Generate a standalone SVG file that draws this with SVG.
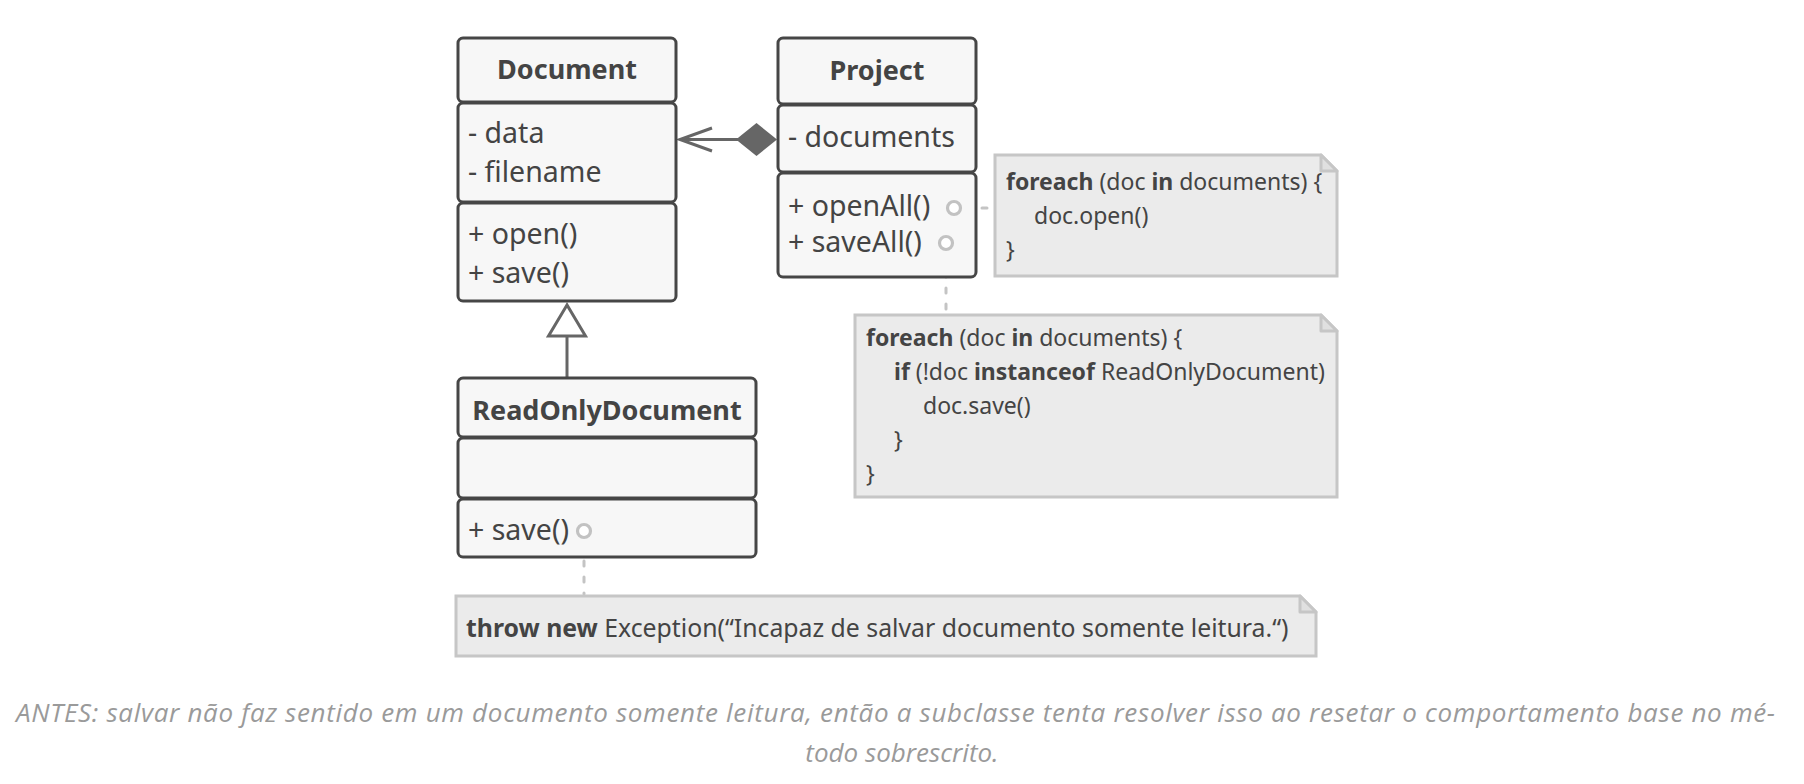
<svg xmlns="http://www.w3.org/2000/svg" width="1804" height="784" viewBox="0 0 1804 784">
<style>
.box{fill:#f7f7f7;stroke:#464646;stroke-width:3}
.t{font-family:"Noto Sans","Open Sans",sans-serif;font-size:28.5px;fill:#444}
.h{font-family:"Noto Sans","Open Sans",sans-serif;font-size:27px;font-weight:bold;fill:#444}
.b{font-weight:bold}
.note{fill:#ebebeb;stroke:#c6c6c6;stroke-width:3}
.fold{fill:#e0e0e0;stroke:#c6c6c6;stroke-width:3;stroke-linejoin:round}
.n{font-family:"Noto Sans","Open Sans",sans-serif;font-size:23px;fill:#444}
.n3{font-family:"Noto Sans","Open Sans",sans-serif;font-size:24.8px;fill:#444}
.dash{stroke:#c4c4c4;stroke-width:3;stroke-dasharray:5 11;stroke-linecap:round;fill:none}
.pin{fill:#fff;stroke:#c2c2c2;stroke-width:3.2}
.ln{stroke:#666;stroke-width:3;fill:none}
.cap{font-family:"Open Sans","Noto Sans",sans-serif;font-style:italic;font-size:26px;fill:#9a9a9a}
</style>

<g id="connectors">
  <line class="ln" x1="680" y1="139.5" x2="740" y2="139.5"/>
  <polyline class="ln" points="712,128 680,139.5 712,151"/>
  <polygon points="736,139.5 756.5,123 777,139.5 756.5,156" fill="#666"/>
  <line class="ln" x1="567" y1="336" x2="567" y2="377"/>
  <polygon points="567,305 548.5,336 585.5,336" fill="#fff" stroke="#666" stroke-width="3" stroke-linejoin="miter"/>
  <line class="dash" x1="966" y1="208" x2="993" y2="208"/>
  <line class="dash" x1="946" y1="256" x2="946" y2="313"/>
  <line class="dash" x1="584" y1="545" x2="584" y2="594"/>
</g>

<g id="Document">
  <rect class="box" x="458" y="38" width="218" height="64" rx="5"/>
  <rect class="box" x="458" y="103" width="218" height="99" rx="5"/>
  <rect class="box" x="458" y="203" width="218" height="98" rx="5"/>
  <text class="h" x="567" y="79" text-anchor="middle">Document</text>
  <text class="t" x="468" y="143">- data</text>
  <text class="t" x="468" y="182">- filename</text>
  <text class="t" x="468" y="244">+ open()</text>
  <text class="t" x="468" y="283">+ save()</text>
</g>

<g id="Project">
  <rect class="box" x="778" y="38" width="198" height="66" rx="5"/>
  <rect class="box" x="778" y="105" width="198" height="67" rx="5"/>
  <rect class="box" x="778" y="173" width="198" height="104" rx="5"/>
  <text class="h" x="877" y="80" text-anchor="middle">Project</text>
  <text class="t" x="788" y="147">- documents</text>
  <text class="t" x="788" y="216">+ openAll()</text>
  <text class="t" x="788" y="252">+ saveAll()</text>
  <circle class="pin" cx="954" cy="208" r="6.5"/>
  <circle class="pin" cx="946" cy="243" r="6.5"/>
</g>

<g id="ReadOnlyDocument">
  <rect class="box" x="458" y="378" width="298" height="59" rx="5"/>
  <rect class="box" x="458" y="438" width="298" height="60" rx="5"/>
  <rect class="box" x="458" y="499" width="298" height="58" rx="5"/>
  <text class="h" x="607" y="420" text-anchor="middle">ReadOnlyDocument</text>
  <text class="t" x="468" y="540">+ save()</text>
  <circle class="pin" cx="584" cy="531" r="6.5"/>
</g>

<g id="note-openAll">
  <path class="note" d="M995,155 H1321 L1337,171 V276 H995 Z"/>
  <path class="fold" d="M1321,155 V171 H1337 Z"/>
  <text class="n" x="1006" y="190"><tspan class="b">foreach</tspan> (doc <tspan class="b">in</tspan> documents) {</text>
  <text class="n" x="1034" y="224">doc.open()</text>
  <text class="n" x="1006" y="258">}</text>
</g>

<g id="note-saveAll">
  <path class="note" d="M855,315 H1321 L1337,331 V497 H855 Z"/>
  <path class="fold" d="M1321,315 V331 H1337 Z"/>
  <text class="n" x="866" y="346"><tspan class="b">foreach</tspan> (doc <tspan class="b">in</tspan> documents) {</text>
  <text class="n" x="894" y="380"><tspan class="b">if</tspan> (!doc <tspan class="b">instanceof</tspan> ReadOnlyDocument)</text>
  <text class="n" x="923" y="414">doc.save()</text>
  <text class="n" x="894" y="448">}</text>
  <text class="n" x="866" y="482">}</text>
</g>

<g id="note-save">
  <path class="note" d="M456,596 H1300 L1316,612 V656 H456 Z"/>
  <path class="fold" d="M1300,596 V612 H1316 Z"/>
  <text class="n3" x="466" y="637"><tspan class="b">throw new</tspan> Exception(“Incapaz de salvar documento somente leitura.“)</text>
</g>

<g id="caption">
  <text class="cap" x="16" y="722" textLength="1759" lengthAdjust="spacing">ANTES: salvar não faz sentido em um documento somente leitura, então a subclasse tenta resolver isso ao resetar o comportamento base no mé-</text>
  <text class="cap" x="902" y="762" text-anchor="middle">todo sobrescrito.</text>
</g>
</svg>
